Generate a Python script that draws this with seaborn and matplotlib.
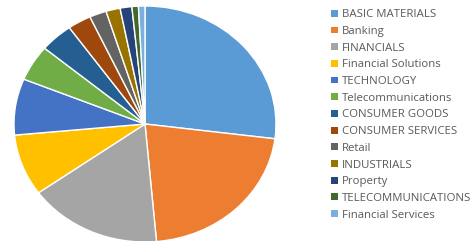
import matplotlib
matplotlib.use("Agg")
import matplotlib.pyplot as plt
import seaborn as sns
from matplotlib.patches import Patch

sectors = [
    "BASIC MATERIALS", "Banking", "FINANCIALS", "Financial Solutions",
    "TECHNOLOGY", "Telecommunications", "CONSUMER GOODS", "CONSUMER SERVICES",
    "Retail", "INDUSTRIALS", "Property", "TELECOMMUNICATIONS", "Financial Services",
]
shares = [27.0, 21.6, 16.5, 8.4, 7.7, 4.9, 4.1, 2.9, 2.1, 1.75, 1.45, 0.8, 0.8]
colors = sns.color_palette([
    "#5B9BD5", "#ED7D31", "#A5A5A5", "#FFC000", "#4472C4", "#70AD47",
    "#255E91", "#9E480E", "#636363", "#997300", "#264478", "#43682B", "#7CAFDD",
])

sns.set_style("white")
plt.rcParams["font.family"] = ["Open Sans", "DejaVu Sans"]

fig = plt.figure(figsize=(4.73, 2.41), dpi=100)
ax = fig.add_axes([14 / 473, -1 / 241, 262 / 473, 236 / 241])
ax.pie(shares, colors=colors, startangle=90, counterclock=False,
       wedgeprops=dict(edgecolor="white", linewidth=1.0))
ax.set_aspect("auto")
ax.set_xlim(-1, 1)
ax.set_ylim(-1, 1)
ax.axis("off")

handles = [Patch(facecolor=c, edgecolor="none", label=s) for s, c in zip(sectors, colors)]
fig.legend(handles=handles, loc="upper left", bbox_to_anchor=(329 / 473, 1 - 7 / 241),
           frameon=False, fontsize=8.2, handlelength=0.55, handleheight=0.55,
           handletextpad=0.35, labelspacing=0.5, labelcolor="#595959",
           borderaxespad=0, borderpad=0.2)

fig.savefig("out.png", dpi=100, facecolor="white")
